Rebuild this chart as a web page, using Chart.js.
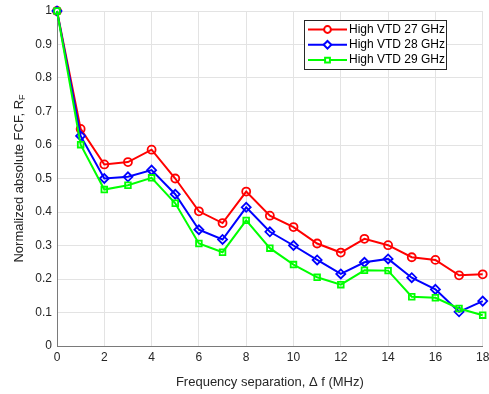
<!DOCTYPE html>
<html>
<head>
<meta charset="utf-8">
<script src="https://cdn.jsdelivr.net/npm/chart.js@4"></script>
<style>
  html, body { margin: 0; padding: 0; background: #fff; }
  #wrap { width: 489px; height: 394px; }
</style>
</head>
<body>
<div id="wrap"><canvas id="fcfChart"></canvas></div>
<script>
// Frequency separation (MHz)
const freqSep = [0, 1, 2, 3, 4, 5, 6, 7, 8, 9, 10, 11, 12, 13, 14, 15, 16, 17, 18];

// Normalized absolute FCF per carrier
const vtd27 = [1, 0.648, 0.542, 0.549, 0.586, 0.500, 0.402, 0.367, 0.461, 0.389, 0.355, 0.306, 0.279, 0.320, 0.301, 0.265, 0.257, 0.211, 0.214];
const vtd28 = [1, 0.627, 0.500, 0.505, 0.525, 0.453, 0.347, 0.318, 0.414, 0.341, 0.300, 0.257, 0.215, 0.250, 0.260, 0.204, 0.169, 0.102, 0.134];
const vtd29 = [1, 0.601, 0.467, 0.480, 0.502, 0.426, 0.306, 0.280, 0.375, 0.292, 0.243, 0.205, 0.183, 0.226, 0.225, 0.147, 0.144, 0.112, 0.092];

const seriesLabels = ['High VTD 27 GHz', 'High VTD 28 GHz', 'High VTD 29 GHz'];

const FONT = 'Liberation Sans, Arial, Helvetica, sans-serif';
const TEXT = '#262626';

function toPoints(values) {
  return values.map((v, i) => ({ x: freqSep[i], y: v }));
}

// y title with subscript F
const yTitlePlugin = {
  id: 'yTitle',
  afterDraw(chart) {
    const { ctx, chartArea } = chart;
    const cy = (chartArea.top + chartArea.bottom) / 2;
    ctx.save();
    ctx.translate(19, cy);
    ctx.rotate(-Math.PI / 2);
    ctx.fillStyle = TEXT;
    ctx.textBaseline = 'middle';
    const main = 'Normalized absolute FCF, R';
    ctx.font = '13px ' + FONT;
    const w1 = ctx.measureText(main).width;
    ctx.font = '9px ' + FONT;
    const w2 = ctx.measureText('F').width;
    const start = -(w1 + w2) / 2;
    ctx.textAlign = 'left';
    ctx.font = '13px ' + FONT;
    ctx.fillText(main, start, 0);
    ctx.font = '9px ' + FONT;
    ctx.fillText('F', start + w1, 4);
    ctx.restore();
  }
};

// MATLAB style legend box inside the axes
const boxLegendPlugin = {
  id: 'boxLegend',
  afterDraw(chart) {
    const { ctx } = chart;
    const x0 = 304, y0 = 20, w = 142, h = 49;
    ctx.save();
    ctx.fillStyle = '#fff';
    ctx.fillRect(x0, y0, w, h);
    ctx.strokeStyle = '#262626';
    ctx.lineWidth = 1;
    ctx.strokeRect(x0 + 0.5, y0 + 0.5, w, h);
    chart.data.datasets.forEach((ds, i) => {
      const y = y0 + 9.5 + i * 15.3;
      ctx.strokeStyle = ds.borderColor;
      ctx.lineWidth = 2;
      ctx.beginPath();
      ctx.moveTo(308, y);
      ctx.lineTo(347, y);
      ctx.stroke();
      ctx.fillStyle = '#fff';
      Chart.helpers.drawPoint(ctx, {
        pointStyle: ds.pointStyle,
        radius: ds.pointRadius * 0.85,
        borderWidth: 1.5
      }, 327.5, y);
      ctx.fillStyle = '#000';
      ctx.font = '12px ' + FONT;
      ctx.textAlign = 'left';
      ctx.textBaseline = 'middle';
      ctx.fillText(ds.label, 349, y);
    });
    ctx.restore();
  }
};

function makeSet(label, values, color, style, radius, order) {
  return {
    label: label,
    data: toPoints(values),
    borderColor: color,
    backgroundColor: 'rgba(0,0,0,0)',
    pointBorderColor: color,
    pointBackgroundColor: 'rgba(0,0,0,0)',
    borderWidth: 2,
    pointStyle: style,
    pointRadius: radius,
    pointBorderWidth: 1.8,
    tension: 0,
    clip: false,
    order: order
  };
}

const ctx = document.getElementById('fcfChart').getContext('2d');
new Chart(ctx, {
  type: 'line',
  data: {
    datasets: [
      makeSet(seriesLabels[0], vtd27, '#ff0000', 'circle', 4, 2),
      makeSet(seriesLabels[1], vtd28, '#0000ff', 'rectRot', 4.5, 1),
      makeSet(seriesLabels[2], vtd29, '#00ff00', 'rect', 4, 0)
    ]
  },
  options: {
    responsive: true,
    maintainAspectRatio: false,
    animation: false,
    layout: { padding: { top: 11, right: 6, left: 0, bottom: 0 } },
    plugins: {
      legend: { display: false },
      tooltip: { enabled: false }
    },
    scales: {
      x: {
        type: 'linear',
        min: 0,
        max: 18,
        ticks: { stepSize: 2, color: TEXT, font: { family: FONT, size: 12 }, padding: 4, maxRotation: 0 },
        grid: { color: '#e3e3e3', tickLength: 0 },
        border: { color: '#7a7a7a', width: 1 },
        title: {
          display: true,
          text: 'Frequency separation, \u0394 f (MHz)',
          color: TEXT,
          font: { family: FONT, size: 13 },
          padding: { top: 4 }
        },
        afterFit(scale) {
          scale.height = 48;
          scale.paddingLeft = 0;
          scale.paddingRight = 0;
        }
      },
      y: {
        min: 0,
        max: 1,
        ticks: {
          stepSize: 0.1,
          color: TEXT,
          font: { family: FONT, size: 12 },
          padding: 5,
          callback: (v) => String(Number(v.toFixed(1)))
        },
        grid: { color: '#e3e3e3', tickLength: 0 },
        border: { color: '#7a7a7a', width: 1 },
        afterFit(scale) {
          scale.width = 57;
          scale.paddingTop = 0;
          scale.paddingBottom = 0;
        }
      }
    }
  },
  plugins: [yTitlePlugin, boxLegendPlugin]
});
</script>
</body>
</html>
